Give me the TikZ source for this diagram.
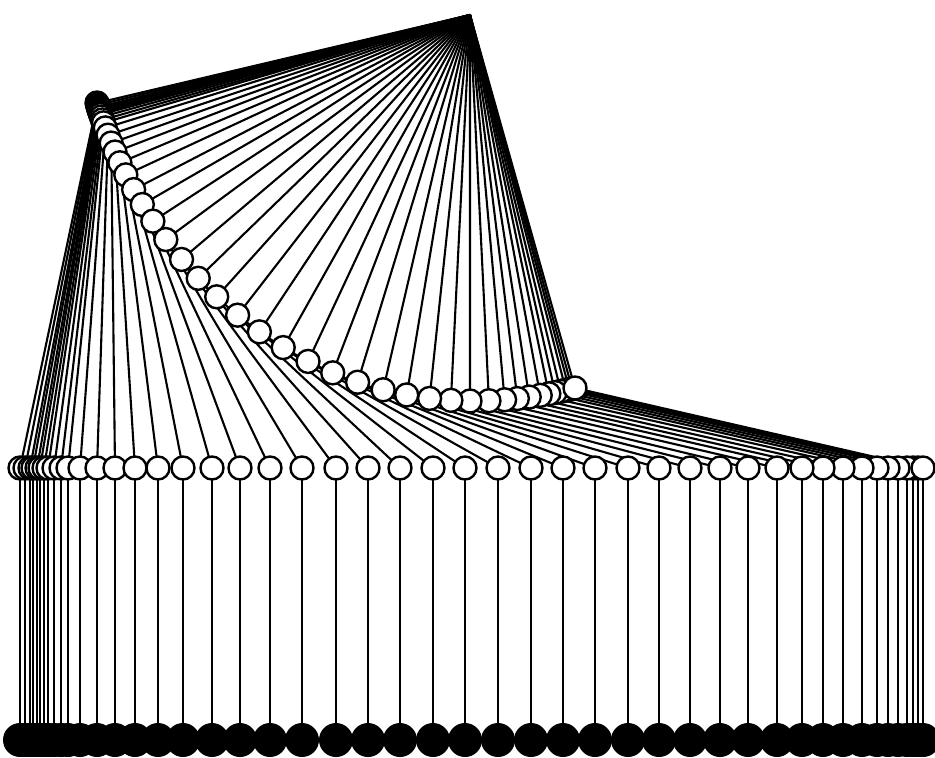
\documentclass[tikz,border=0pt]{standalone}
\pgfdeclarelayer{bg}
\pgfsetlayers{bg,main}
\begin{document}
\begin{tikzpicture}[x=1pt,y=-1pt,
  edge/.style={line width=2.1pt,black},
  wnode/.style={circle,draw=black,fill=white,line width=2.4pt,minimum size=23pt,inner sep=0pt},
  bnode/.style={circle,fill=black,minimum size=34pt,inner sep=0pt}]
\useasboundingbox (0,0) rectangle (935,758);
\node[inner sep=0pt,minimum size=0pt] (apex) at (470,15) {};
\def\xs{20,25,30,33,37,40,44,48,54,61,68,80,97,115,135,158,183,212,240,270,302,336,368,400,433,465,498,531,563,595,628,659,690,720,748,777,802,823,843,862,877,888,898,907,913,918,923}
% compute coordinates (cubic curve for the upper row)
\foreach \x [count=\i] in \xs {
  \pgfmathsetmacro\u{(\x-20)/903}
  \pgfmathsetmacro\t{\u-0.3*sin(360*\u)/6.2832}
  \pgfmathsetmacro\s{1-\t}
  \pgfmathsetmacro\cx{\s*\s*\s*97+3*\t*\s*\s*150+3*\t*\t*\s*330+\t*\t*\t*575}
  \pgfmathsetmacro\cy{\s*\s*\s*103+3*\t*\s*\s*280+3*\t*\t*\s*450+\t*\t*\t*388}
  \coordinate (pc\i) at (\cx,\cy);
  \coordinate (pm\i) at (\x,468);
  \coordinate (pb\i) at (\x,740);
}
% bottom nodes
\foreach \i in {1,...,47} { \node[bnode] (b\i) at (pb\i) {}; }
% white nodes: left half increasing, right half decreasing, last on top
\foreach \i in {1,...,23,46,45,...,24,47} {
  \node[wnode] (c\i) at (pc\i) {};
  \node[wnode] (m\i) at (pm\i) {};
}
\begin{pgfonlayer}{bg}
\foreach \i in {1,...,47} {
  \draw[edge] (apex.center) -- (c\i.center);
  \draw[edge] (c\i.center) -- (m\i.center);
  \draw[edge] (m\i.center) -- (b\i.center);
}
\end{pgfonlayer}
\end{tikzpicture}
\end{document}
